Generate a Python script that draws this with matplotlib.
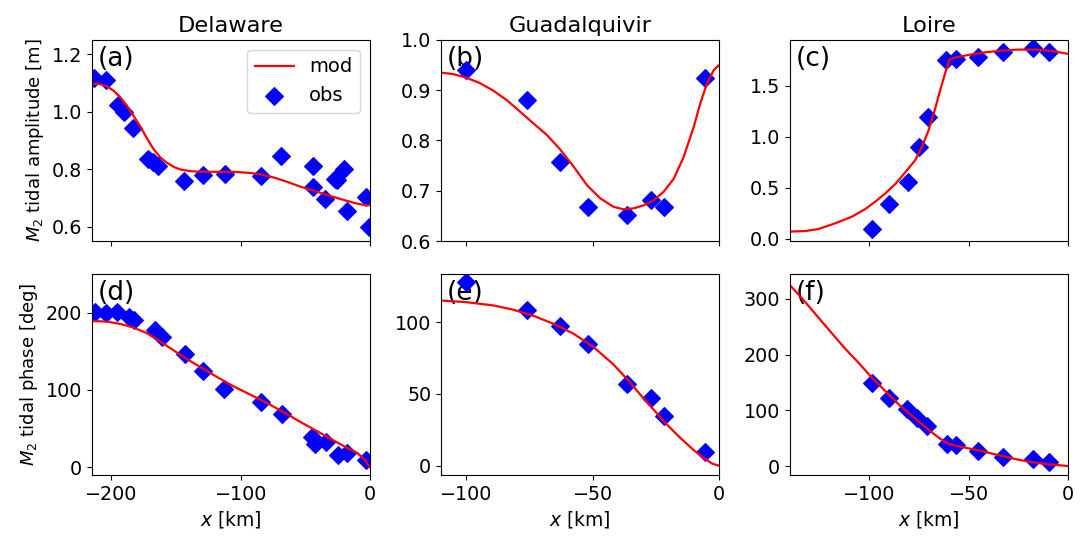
import numpy as np
import matplotlib
matplotlib.use("Agg")
import matplotlib.pyplot as plt

rivers = ["Delaware", "Guadalquivir", "Loire"]

# Delaware
del_mod_x = [-214.5, -208.5, -203.4, -198.2, -193.0, -187.9, -182.7, -177.5, -172.4, -167.2,
             -162.1, -156.9, -151.7, -146.6, -138.8, -131.1, -118.2, -105.3, -92.4, -84.6,
             -74.3, -64.0, -53.7, -43.4, -33.0, -22.7, -12.4, -4.6, 0]
del_mod_amp = [1.098, 1.096, 1.089, 1.073, 1.050, 1.020, 0.985, 0.948, 0.907, 0.869,
               0.841, 0.822, 0.808, 0.799, 0.793, 0.791, 0.791, 0.791, 0.787, 0.782,
               0.771, 0.756, 0.739, 0.725, 0.710, 0.696, 0.683, 0.675, 0.675]
del_mod_ph_x = [-215, -203.4, -193.0, -182.7, -172.4, -162.1, -151.7, -141.4, -131.1, -118.2,
                -105.3, -92.4, -79.5, -66.6, -53.7, -40.8, -27.9, -17.5, -9.8, -4.6, -2.1, 0]
del_mod_ph = [189.2, 188.4, 185.4, 180.6, 173.3, 162.6, 151.0, 139.8, 129.5, 116.6,
              104.5, 93.8, 83.0, 71.0, 58.5, 46.5, 34.4, 24.9, 18.5, 10.8, 4.7, 0]
del_obs_amp_x = [-213.7, -203.9, -195.1, -190.5, -183.2, -172, -168, -164, -144, -129.3, -112.5,
                 -84.6, -68.6, -44, -44, -35, -27, -25.3, -20, -17.5, -3.4, -0.8]
del_obs_amp = [1.119, 1.110, 1.023, 1.0, 0.945, 0.837, 0.825, 0.812, 0.760, 0.780, 0.783,
               0.777, 0.846, 0.812, 0.739, 0.695, 0.765, 0.762, 0.800, 0.656, 0.704, 0.598]
del_obs_ph_x = [-212.4, -203.9, -195.6, -186.6, -182.7, -166, -160.8, -142.7, -129.3, -113,
                -84.6, -68.4, -44.6, -42.8, -34.3, -24.8, -17.5, -2.8]
del_obs_ph = [201, 199, 201, 194, 191, 178, 169, 147, 124, 101,
              84, 69, 39, 30.5, 33, 16, 18, 10]

# Guadalquivir
gua_mod_x = [-109.9, -105.0, -100, -94.5, -89.2, -83.9, -78.6, -73.4, -68.1, -62.8, -57.5, -52.2,
             -47.0, -41.7, -37.7, -33.8, -29.8, -25.9, -21.9, -17.9, -14.0, -10.0, -7.4, -4.7, -2.1, 0]
gua_mod_amp = [0.935, 0.932, 0.925, 0.914, 0.899, 0.880, 0.857, 0.834, 0.811, 0.782, 0.748, 0.711,
               0.685, 0.668, 0.663, 0.665, 0.671, 0.681, 0.698, 0.724, 0.767, 0.827, 0.874, 0.914,
               0.940, 0.950]
gua_mod_ph_x = [-109.9, -100, -89.2, -81.3, -73.4, -65.4, -57.5, -49.6, -41.7, -36.4, -31.1,
                -25.9, -20.6, -15.3, -10.0, -6.1, -2.8, 0]
gua_mod_ph = [115.0, 113.9, 111.6, 108.6, 104.4, 98.8, 91.9, 82.6, 70.4, 60.4, 49.5,
              39.1, 28.7, 19.4, 10.9, 5.6, 1.6, 0]
gua_obs_x = [-100, -76, -62.9, -51.9, -36.5, -26.9, -21.8, -5.5]
gua_obs_amp = [0.940, 0.880, 0.757, 0.668, 0.651, 0.681, 0.667, 0.925]
gua_obs_ph = [128.2, 108.6, 97, 85, 57, 47.2, 34.5, 9.5]

# Loire
loi_mod_x = [-140.3, -132.2, -125.5, -117.1, -108.7, -102.0, -97.0, -91.9, -86.9, -81.9, -76.8,
             -73.5, -70.1, -66.8, -64.3, -61.7, -59.7, -56.7, -50.0, -41.6, -33.2, -24.8, -16.4,
             -8.1, 0]
loi_mod_amp = [0.072, 0.078, 0.098, 0.154, 0.219, 0.294, 0.366, 0.448, 0.539, 0.654, 0.775,
               0.905, 1.069, 1.281, 1.461, 1.634, 1.755, 1.778, 1.804, 1.830, 1.846, 1.856, 1.856,
               1.843, 1.814]
loi_mod_ph_x = [-140.3, -135.6, -130.5, -125.5, -118.8, -112.1, -105.4, -98.7, -91.9, -85.2,
                -78.5, -71.8, -65.1, -59.7, -53.4, -45.0, -36.6, -28.2, -19.8, -11.4, 0]
loi_mod_ph = [325.0, 307.1, 286.3, 265.5, 237.5, 210.1, 185.1, 158.3, 134.5, 110.7,
              89.9, 70.2, 51.2, 39.3, 34.5, 28.6, 21.4, 14.3, 8.3, 4.2, 0.6]
loi_obs_x = [-98.7, -90.3, -80.5, -75.2, -70.5, -61.4, -56.4, -45.3, -32.9, -17.8, -9.7]
loi_obs_amp = [0.098, 0.343, 0.562, 0.905, 1.20, 1.755, 1.765, 1.788, 1.837, 1.869, 1.837]
loi_obs_ph_x = [-98.7, -90.3, -81, -75.9, -71, -60.9, -56.4, -45.3, -32.9, -17.8, -9.7]
loi_obs_ph = [149.4, 122.6, 101.8, 86.9, 72, 39.3, 38, 27.4, 16.7, 12.5, 8.3]

amp_data = [(del_mod_x, del_mod_amp, del_obs_amp_x, del_obs_amp),
            (gua_mod_x, gua_mod_amp, gua_obs_x, gua_obs_amp),
            (loi_mod_x, loi_mod_amp, loi_obs_x, loi_obs_amp)]
ph_data = [(del_mod_ph_x, del_mod_ph, del_obs_ph_x, del_obs_ph),
           (gua_mod_ph_x, gua_mod_ph, gua_obs_x, gua_obs_ph),
           (loi_mod_ph_x, loi_mod_ph, loi_obs_ph_x, loi_obs_ph)]

xlims = [(-215, 0), (-110, 0), (-140, 0)]
amp_ylims = [(0.55, 1.25), (0.6, 1.0), (-0.02, 1.95)]
ph_ylims = [(-10, 250), (-6.4, 133.5), (-15.5, 344)]
xticks = [[-200, -100, 0], [-100, -50, 0], [-100, -50, 0]]
amp_yticks = [[0.6, 0.8, 1.0, 1.2], [0.6, 0.7, 0.8, 0.9, 1.0], [0.0, 0.5, 1.0, 1.5]]
ph_yticks = [[0, 100, 200], [0, 50, 100], [0, 100, 200, 300]]
labels_top = ["(a)", "(b)", "(c)"]
labels_bot = ["(d)", "(e)", "(f)"]

plt.rcParams['font.size'] = 13.8

fig, axes = plt.subplots(2, 3, figsize=(10.87, 5.36), dpi=100)
fig.subplots_adjust(left=0.0846, right=0.9825, top=0.9254, bottom=0.1138,
                    wspace=0.255, hspace=0.164)

for j in range(3):
    ax = axes[0, j]
    mx, my, ox, oy = amp_data[j]
    ax.plot(mx, my, color='red', lw=1.6, label='mod')
    ax.scatter(ox, oy, marker='D', s=80, color='blue', label='obs')
    ax.set_xlim(*xlims[j])
    ax.set_ylim(*amp_ylims[j])
    ax.set_xticks(xticks[j])
    ax.set_xticklabels([])
    ax.set_yticks(amp_yticks[j])
    ax.set_title(rivers[j], fontsize=16.2)
    ax.text(0.02, 0.97, labels_top[j], transform=ax.transAxes, va='top', ha='left',
            fontsize=19, zorder=0)

    ax = axes[1, j]
    mx, my, ox, oy = ph_data[j]
    ax.plot(mx, my, color='red', lw=1.6)
    ax.scatter(ox, oy, marker='D', s=80, color='blue')
    ax.set_xlim(*xlims[j])
    ax.set_ylim(*ph_ylims[j])
    ax.set_xticks(xticks[j])
    ax.set_yticks(ph_yticks[j])
    ax.set_xlabel('$x$ [km]', fontsize=13.5)
    ax.text(0.02, 0.97, labels_bot[j], transform=ax.transAxes, va='top', ha='left',
            fontsize=19, zorder=0)

axes[0, 0].set_ylabel('$M_2$ tidal amplitude [m]', fontsize=13)
axes[1, 0].set_ylabel('$M_2$ tidal phase [deg]', fontsize=13)
axes[0, 0].legend(loc='upper right', fontsize=14)

fig.savefig('out.png')
